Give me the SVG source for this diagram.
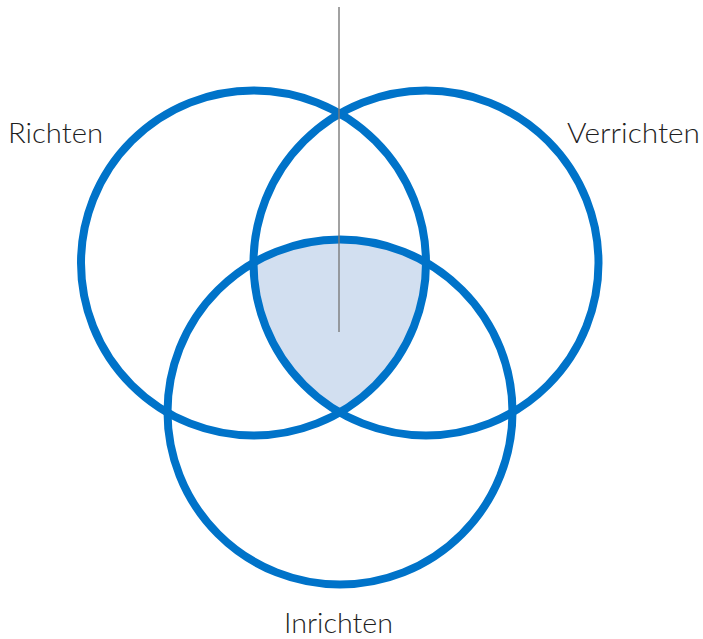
<svg xmlns="http://www.w3.org/2000/svg" width="703" height="639" viewBox="0 0 703 639">
<style>
.ring{fill:none;stroke:#0073c9;stroke-width:8}
.lbl{font-family:"Lato","Noto Sans",sans-serif;font-size:27px;fill:#1e1e1e;font-weight:300}
</style>
<defs>
<clipPath id="cL"><circle cx="253.5" cy="263" r="172.5"/></clipPath>
<clipPath id="cR"><circle cx="426" cy="263" r="172.5"/></clipPath>
</defs>
<g id="overlap" clip-path="url(#cR)"><g clip-path="url(#cL)"><circle cx="340" cy="412" r="172.5" fill="#d2dff0"/></g></g>
<g id="richten"><circle class="ring" cx="253.5" cy="263" r="172.5"/><text class="lbl" x="8" y="143" textLength="95" lengthAdjust="spacingAndGlyphs">Richten</text></g>
<g id="verrichten"><circle class="ring" cx="426" cy="263" r="172.5"/><text class="lbl" x="567" y="143" textLength="133" lengthAdjust="spacingAndGlyphs">Verrichten</text></g>
<g id="inrichten"><circle class="ring" cx="340" cy="412" r="172.5"/><text class="lbl" x="284" y="633" textLength="109" lengthAdjust="spacingAndGlyphs">Inrichten</text></g>
<g id="connectors"><line x1="339" y1="7" x2="339" y2="332" stroke="#7a7a7a" stroke-opacity="0.7" stroke-width="2"/></g>
</svg>
